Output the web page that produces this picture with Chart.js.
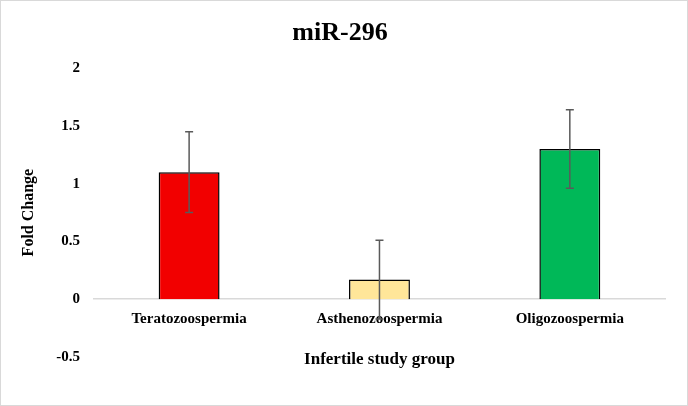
<!DOCTYPE html>
<html>
<head>
<meta charset="utf-8">
<script src="https://cdn.jsdelivr.net/npm/chart.js@4.4.0/dist/chart.umd.min.js"></script>
<style>
  html, body { margin: 0; padding: 0; background: #fff; }
  #wrap { width: 688px; height: 406px; box-sizing: border-box; border: 1px solid #d9d9d9; }
  #chart { display: block; }
</style>
</head>
<body>
<div id="wrap"><canvas id="chart" width="686" height="404"></canvas></div>
<script>
// data
var groups = ["Teratozoospermia", "Asthenozoospermia", "Oligozoospermia"];
var foldChange = [1.10, 0.17, 1.30];
var errors = [0.35, 0.34, 0.34];
var barColors = ["#f20000", "#ffe699", "#00b858"];
var yTicks = [-0.5, 0, 0.5, 1, 1.5, 2];

var serif = "'Liberation Serif', 'Times New Roman', serif";

// draws the error bars with the y scale of the chart
var errorBars = {
    id: "errorBars",
    afterDatasetsDraw: function(chart) {
        var ctx = chart.ctx;
        var y = chart.scales.y;
        var meta = chart.getDatasetMeta(0);
        ctx.save();
        ctx.strokeStyle = "#5a5a5a";
        ctx.lineWidth = 1.5;
        meta.data.forEach(function(bar, i) {
            var top = y.getPixelForValue(foldChange[i] + errors[i]);
            var bot = y.getPixelForValue(foldChange[i] - errors[i]);
            ctx.beginPath();
            ctx.moveTo(bar.x, top);
            ctx.lineTo(bar.x, bot);
            ctx.moveTo(bar.x - 4, top);
            ctx.lineTo(bar.x + 4, top);
            ctx.moveTo(bar.x - 4, bot);
            ctx.lineTo(bar.x + 4, bot);
            ctx.stroke();
        });
        ctx.restore();
    }
};

var ctx = document.getElementById("chart").getContext("2d");
new Chart(ctx, {
    type: "bar",
    data: {
        labels: groups,
        datasets: [{
            data: foldChange,
            backgroundColor: barColors,
            borderColor: "#000",
            borderWidth: 1.5,
            categoryPercentage: 1,
            barPercentage: 0.32
        }]
    },
    options: {
        responsive: false,
        animation: false,
        layout: { padding: { top: 0, right: 22, bottom: 48, left: 14 } },
        plugins: {
            legend: { display: false },
            tooltip: { enabled: false },
            title: {
                display: true,
                text: "miR-296",
                color: "#000",
                font: { family: serif, size: 26, weight: "bold" },
                padding: { top: 17, bottom: 19 }
            }
        },
        scales: {
            x: {
                position: { y: 0 },
                grid: { display: false },
                border: { display: true, color: "#d9d9d9", width: 1.5 },
                ticks: { color: "#000", font: { family: serif, size: 15, weight: "bold" }, padding: 3 },
                title: {
                    display: true,
                    text: "Infertile study group",
                    color: "#000",
                    font: { family: serif, size: 17, weight: "bold" },
                    padding: { top: 18 }
                }
            },
            y: {
                min: -0.5,
                max: 2,
                afterBuildTicks: function(scale) {
                    scale.ticks = yTicks.map(function(v) { return { value: v }; });
                },
                grid: { display: false },
                border: { display: false },
                ticks: {
                    color: "#000",
                    font: { family: serif, size: 15, weight: "bold" },
                    padding: 6,
                    callback: function(v) { return String(v); }
                },
                title: {
                    display: true,
                    text: "Fold Change",
                    color: "#000",
                    font: { family: serif, size: 16, weight: "bold" },
                    padding: { bottom: 12 }
                }
            }
        }
    },
    plugins: [errorBars]
});
</script>
</body>
</html>
